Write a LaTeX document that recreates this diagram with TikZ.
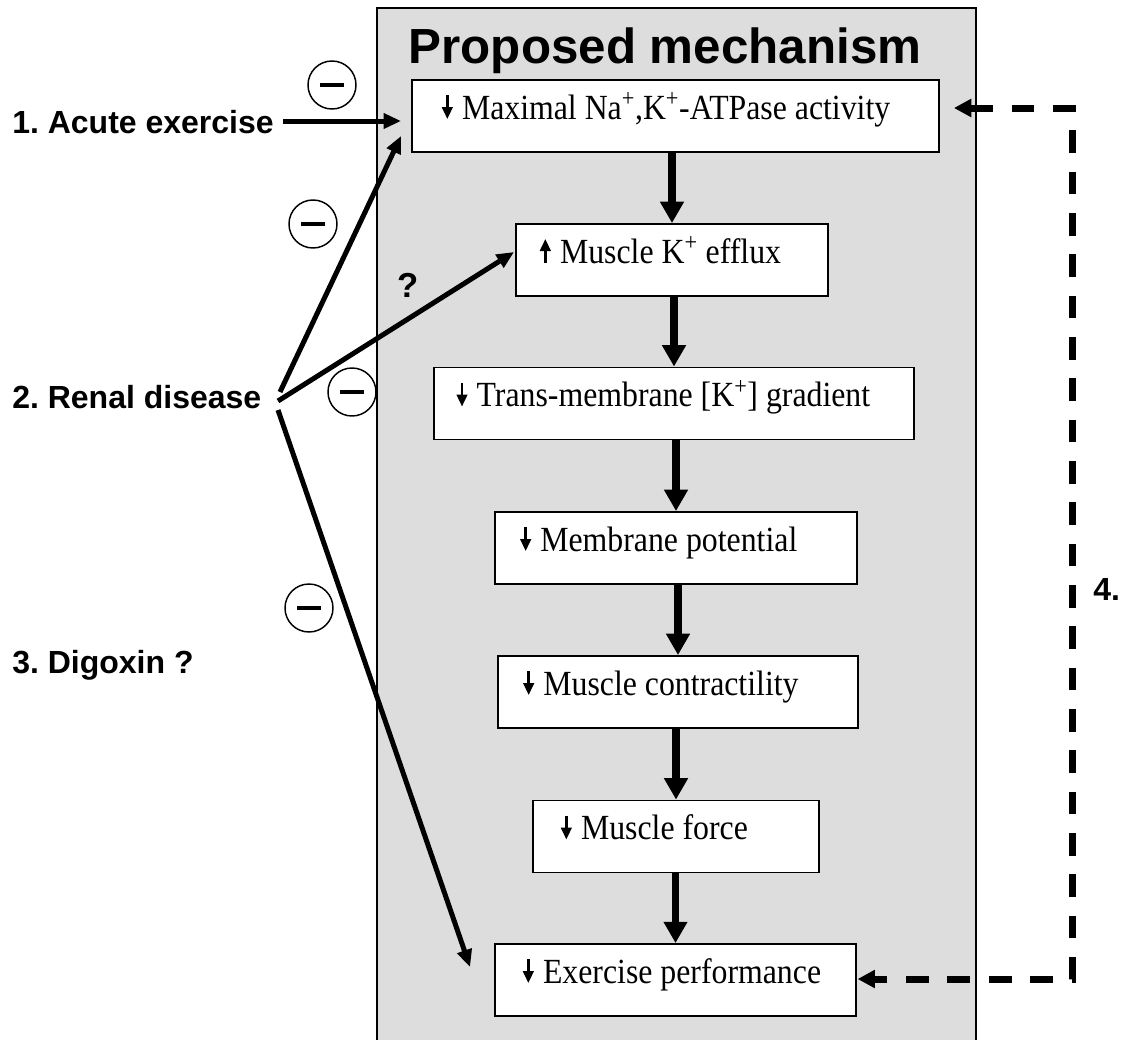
\documentclass[tikz,border=0pt]{standalone}
\usepackage{fontspec}
\setmainfont{Liberation Serif}
\setsansfont{Liberation Sans}
\newfontfamily\boxfont{Liberation Serif}[FakeStretch=0.9]
\usetikzlibrary{arrows.meta,calc}
\definecolor{panel}{HTML}{DDDDDD}
\newcommand{\dnarr}{\tikz[baseline=0pt]{\draw[line width=1.8pt,-{Triangle[length=9pt,width=8pt]}] (0pt,18pt) -- (0pt,0pt);}\hspace{7pt}}
\newcommand{\uparr}{\tikz[baseline=0pt]{\draw[line width=1.8pt,-{Triangle[length=9pt,width=8pt]}] (0pt,0pt) -- (0pt,18pt);}\hspace{7pt}}
\newcommand{\bx}[2]{\makebox[#1][l]{#2}}
\frenchspacing
\begin{document}
\begin{tikzpicture}[x=0.75pt,y=-0.75pt,
  mbox/.style={draw,fill=white,line width=1.4pt,inner xsep=20pt,inner ysep=0pt,
    text height=29.25pt,text depth=24.75pt,
    font=\boxfont\fontsize{26.5}{30}\selectfont},
  lbl/.style={inner sep=0pt,font=\sffamily\bfseries\fontsize{24}{28}\selectfont},
  minus/.style={circle,draw,line width=1.1pt,minimum size=36pt,inner sep=0pt},
  varr/.style={line width=5.5pt,-{Triangle[length=16pt,width=17pt]}},
  larr/.style={line width=3.75pt,-{Triangle[length=13pt,width=11pt]}},
  darr/.style={line width=5.25pt,dash pattern=on 17pt off 14pt,
    {Triangle[length=13pt,width=13pt]}-{Triangle[length=13pt,width=13pt]}}
]
\useasboundingbox (0,0) rectangle (1123,1039);
% panel
\fill[panel] (377,8) rectangle (976,1050);
\draw[line width=1.4pt] (377,1050) -- (377,8) -- (976,8) -- (976,1050);
\node[font=\sffamily\bfseries\fontsize{37}{40}\selectfont,anchor=base,inner sep=0pt] (title) at (665,63) {Proposed mechanism};

% mechanism boxes
\node[mbox,inner xsep=22.5pt] (b1) at (675.5,116) {\bx{350.25pt}{\dnarr Maximal Na\textsuperscript{+},K\textsuperscript{+}-ATPase activity}};
\node[mbox,inner xsep=18pt] (b2) at (672,260) {\bx{198pt}{\uparr Muscle K\textsuperscript{+} efflux}};
\node[mbox,inner xsep=17pt] (b3) at (674,403.5) {\bx{326pt}{\dnarr Trans-membrane [K\textsuperscript{+}] gradient}};
\node[mbox,inner xsep=19pt] (b4) at (676,548) {\bx{233.5pt}{\dnarr Membrane potential}};
\node[mbox,inner xsep=19pt] (b5) at (678,692) {\bx{232pt}{\dnarr Muscle contractility}};
\node[mbox,inner xsep=21pt] (b6) at (676,836.5) {\bx{172.5pt}{\dnarr Muscle force}};
\node[mbox,inner xsep=21pt] (b7) at (675.5,980) {\bx{228.75pt}{\dnarr Exercise performance}};

% flow arrows
\draw[varr] (b1.south -| b2.north) -- (b2.north);
\draw[varr] (b2.south -| b3.north) -- (b3.north);
\draw[varr] (b3.south -| b4.north) -- (b4.north);
\draw[varr] (b4.south -| b5.north) -- (b5.north);
\draw[varr] (b5.south -| b6.north) -- (b6.north);
\draw[varr] (b6.south -| b7.north) -- (b7.north);

% left labels
\node[lbl,anchor=base west] (acute) at (12,133) {1. Acute exercise};
\node[lbl,anchor=base west] (renal) at (12,408) {2. Renal disease};
\node[lbl,anchor=base west] (digox) at (12,673) {3. Digoxin ?};
\node[lbl,font=\sffamily\bfseries\fontsize{26}{28}\selectfont,anchor=base] (q) at (408,297) {?};
\node[lbl,anchor=base west] (four) at (1093,600) {4.};

% influence arrows
\coordinate (a0) at (283,121);
\coordinate (r1) at (280,392);
\coordinate (r2) at (278,401);
\coordinate (r3) at (278,410);
\draw[larr] (a0) -- ($(b1.west)+(-10,5)$);
\draw[larr] (r1) -- ($(b1.south west)+(-10,-17)$);
\draw[larr] (r2) -- ($(b2.west)+(-1,-8)$);
\draw[larr] (r3) -- ($(b7.west)+(-24,-13)$);

% minus signs
\node[minus] (m1) at (332,85) {\rule{18pt}{2.6pt}};
\node[minus] (m2) at (313,224) {\rule{18pt}{2.6pt}};
\node[minus] (m3) at (352,392) {\rule{18pt}{2.6pt}};
\node[minus] (m4) at (309,608) {\rule{18pt}{2.6pt}};

% feedback dashed loop
\coordinate (d1) at (1072,108);
\coordinate (d2) at (1072,979);
\draw[darr,shorten <=10.5pt,shorten >=0.5pt] (b1.east |- d1) -- (d1) -- (d2) -- (b7.east |- d2);
\end{tikzpicture}
\end{document}
